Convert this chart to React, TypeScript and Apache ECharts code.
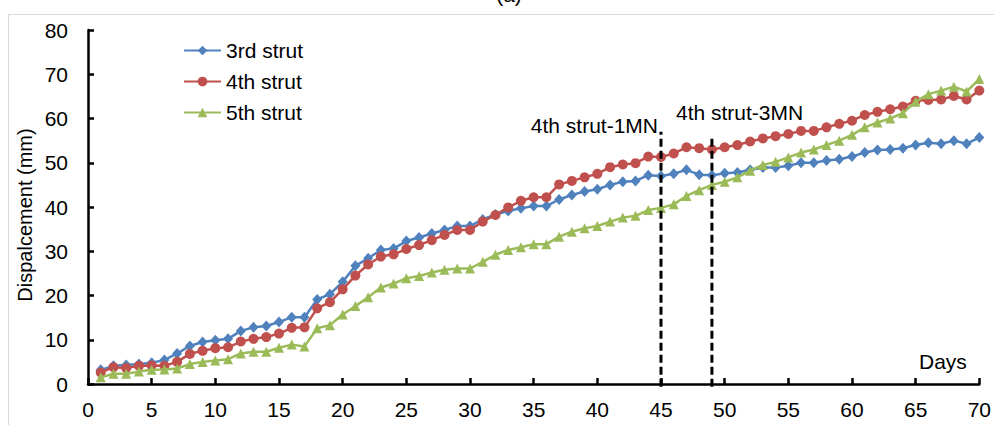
import React, { useEffect, useRef } from "react";
import * as echarts from "echarts";

const days: number[] = Array.from({ length: 70 }, (_, i) => i + 1);

const strut3: number[] = [
  3.2, 4.1, 4.3, 4.5, 4.8, 5.4, 6.9, 8.6, 9.5, 9.9,
  10.2, 12.0, 12.8, 13.1, 14.0, 15.1, 15.1, 19.1, 20.3, 23.1,
  26.7, 28.4, 30.3, 30.6, 32.3, 33.1, 34.0, 34.8, 35.7, 35.7,
  37.2, 38.3, 39.1, 39.7, 40.2, 40.2, 41.7, 42.7, 43.5, 44.0,
  45.0, 45.7, 45.9, 47.2, 47.0, 47.5, 48.4, 47.3, 47.2, 47.6,
  47.8, 48.4, 48.9, 48.9, 49.3, 50.0, 50.0, 50.5, 50.8, 51.4,
  52.3, 52.9, 53.0, 53.3, 54.0, 54.5, 54.3, 55.0, 54.3, 55.7,
];

const strut4: number[] = [
  2.6, 3.8, 3.6, 4.1, 4.2, 4.1, 5.0, 6.8, 7.5, 8.1,
  8.3, 9.6, 10.2, 10.6, 11.4, 12.7, 12.8, 17.1, 18.5, 21.4,
  24.5, 27.0, 28.8, 29.3, 30.5, 31.4, 32.5, 33.7, 34.8, 34.8,
  36.7, 38.2, 39.9, 41.4, 42.2, 42.2, 45.1, 45.9, 46.7, 47.5,
  49.0, 49.6, 49.9, 51.4, 51.3, 52.1, 53.5, 53.3, 53.0, 53.5,
  54.0, 54.8, 55.5, 56.0, 56.5, 57.2, 57.2, 58.0, 58.8, 59.5,
  60.8, 61.5, 62.1, 62.7, 64.0, 64.2, 64.3, 65.1, 64.3, 66.3,
];

const strut5: number[] = [
  1.5, 2.3, 2.3, 2.8, 3.2, 3.3, 3.5, 4.5, 5.0, 5.3,
  5.6, 6.9, 7.3, 7.3, 8.2, 8.9, 8.5, 12.6, 13.3, 15.7,
  17.6, 19.6, 21.8, 22.7, 23.9, 24.4, 25.2, 25.8, 26.1, 26.1,
  27.6, 29.2, 30.3, 30.9, 31.6, 31.6, 33.3, 34.4, 35.2, 35.7,
  36.7, 37.6, 38.0, 39.3, 39.8, 40.6, 42.5, 43.8, 45.0, 45.7,
  46.7, 48.2, 49.5, 50.2, 51.2, 52.3, 53.0, 54.0, 55.0, 56.3,
  58.0, 59.1, 60.0, 61.2, 63.8, 65.5, 66.3, 67.2, 66.1, 68.9,
];

const seriesNames: string[] = ["3rd strut", "4th strut", "5th strut"];
const seriesColors: string[] = ["#4F81BD", "#C0504D", "#9BBB59"];
const seriesSymbols: string[] = ["diamond", "circle", "triangle"];

// vertical event markers: [day, top value]
const eventDays: number[] = [45, 49];
const eventTops: number[] = [57, 56];
const eventLabels: string[] = ["4th strut-1MN", "4th strut-3MN"];

const FONT = "'Liberation Sans', Arial, sans-serif";

export default function App() {
  const ref = useRef<HTMLDivElement>(null);

  useEffect(() => {
    if (!ref.current) return;
    const chart = echarts.init(ref.current, null, { renderer: "svg" });

    const dataSeries = [strut3, strut4, strut5].map((vals, i) => ({
      name: seriesNames[i],
      type: "line",
      data: days.map((d, j) => [d, vals[j]]),
      symbol: seriesSymbols[i],
      symbolSize: i === 0 ? [10, 11] : 10,
      lineStyle: { color: seriesColors[i], width: 2.5 },
      itemStyle: { color: seriesColors[i] },
      z: 2 + i,
    }));

    const eventSeries = eventDays.map((d, i) => ({
      name: eventLabels[i],
      type: "line",
      data: [
        [d, -0.6],
        [d, eventTops[i]],
      ],
      symbol: "none",
      clip: false,
      silent: true,
      z: 10,
      lineStyle: { color: "#000", width: 3, type: [8, 4] },
    }));

    const axisCommon = {
      axisLine: { show: true, onZero: false, lineStyle: { color: "#000", width: 2.5 } },
      axisTick: { show: true, inside: true, length: 6, lineStyle: { color: "#000", width: 2.5 } },
      splitLine: { show: false },
    };

    chart.setOption({
      animation: false,
      backgroundColor: "#ffffff",
      textStyle: { fontFamily: FONT },
      grid: { left: 88, right: 14, top: 30, bottom: 41, containLabel: false },
      xAxis: {
        type: "value",
        min: 0,
        max: 70,
        interval: 5,
        ...axisCommon,
        axisLabel: { color: "#000", fontSize: 21, margin: 15, fontFamily: FONT },
      },
      yAxis: {
        type: "value",
        min: 0,
        max: 80,
        interval: 10,
        ...axisCommon,
        axisLabel: { color: "#000", fontSize: 21, margin: 20, fontFamily: FONT },
      },
      legend: {
        data: seriesNames,
        orient: "vertical",
        left: 183,
        top: 40,
        padding: 0,
        itemGap: 10,
        itemWidth: 37,
        itemHeight: 12,
        textStyle: { color: "#000", fontSize: 21, fontFamily: FONT },
      },
      graphic: [
        {
          type: "rect",
          shape: { x: 8.5, y: 14.5, width: 1000, height: 600 },
          style: { fill: "none", stroke: "#d9d9d9", lineWidth: 1 },
          silent: true,
          z: -10,
        },
        {
          type: "text",
          x: 509,
          y: 5,
          style: { text: "(a)", fill: "#000", font: `21px ${FONT}`, align: "center", verticalAlign: "bottom" },
        },
        {
          type: "text",
          x: 658,
          y: 125,
          style: { text: eventLabels[0], fill: "#000", font: `21px ${FONT}`, align: "right", verticalAlign: "middle" },
        },
        {
          type: "text",
          x: 676,
          y: 112,
          style: { text: eventLabels[1], fill: "#000", font: `21px ${FONT}`, align: "left", verticalAlign: "middle" },
        },
        {
          type: "text",
          x: 919,
          y: 361,
          style: { text: "Days", fill: "#000", font: `21px ${FONT}`, align: "left", verticalAlign: "middle" },
        },
        {
          type: "text",
          x: 25,
          y: 215,
          rotation: Math.PI / 2,
          style: { text: "Dispalcement (mm)", fill: "#000", font: `20px ${FONT}`, align: "center", verticalAlign: "middle" },
        },
      ],
      series: [...dataSeries, ...eventSeries],
    });

    return () => chart.dispose();
  }, []);

  return (
    <div
      ref={ref}
      style={{ position: "fixed", left: 0, top: 0, width: 994, height: 425, background: "#fff" }}
    />
  );
}
